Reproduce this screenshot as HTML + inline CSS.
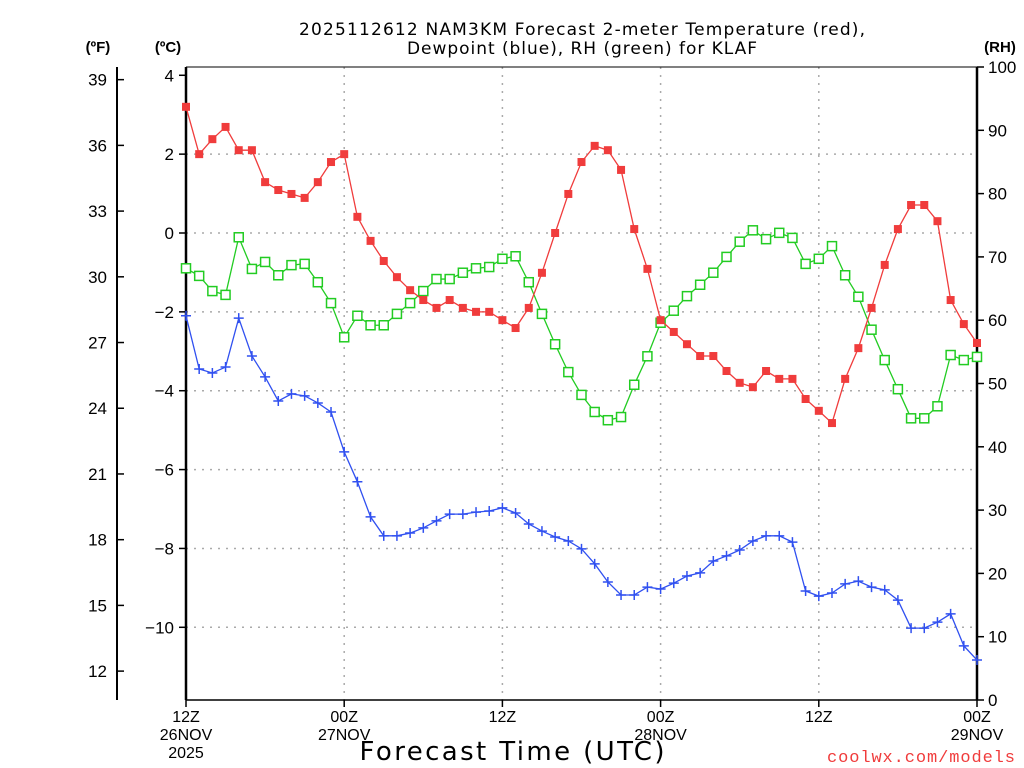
<!DOCTYPE html>
<html><head><meta charset="utf-8"><style>
body{margin:0;background:#fff}
svg{display:block;font-family:"Liberation Sans",sans-serif}
</style></head><body>
<svg id="c" width="1024" height="768">
<text x="582" y="35" font-size="17" font-family="DejaVu Sans, sans-serif" text-anchor="middle" textLength="566">2025112612 NAM3KM Forecast 2-meter Temperature (red),</text>
<text x="582" y="54" font-size="17" font-family="DejaVu Sans, sans-serif" text-anchor="middle" textLength="350">Dewpoint (blue), RH (green) for KLAF</text>
<text x="98" y="52" font-size="15" font-weight="bold" text-anchor="middle">(ºF)</text>
<text x="168" y="52" font-size="15" font-weight="bold" text-anchor="middle">(ºC)</text>
<text x="1000" y="52" font-size="15" font-weight="bold" text-anchor="middle">(RH)</text>
<text x="512" y="760" font-size="26" font-family="DejaVu Sans, sans-serif" text-anchor="middle" textLength="305">Forecast Time (UTC)</text>
<text x="1015" y="762" font-size="17" font-family="Liberation Mono, monospace" fill="#f03c3c" text-anchor="end" textLength="188">coolwx.com/models</text>
<g id="g"></g>
</svg>
<script>
const tempC=[3.20,2.00,2.38,2.69,2.10,2.10,1.29,1.09,0.99,0.89,1.29,1.80,2.00,0.41,-0.20,-0.71,-1.12,-1.45,-1.70,-1.90,-1.70,-1.90,-2.00,-2.00,-2.21,-2.41,-1.90,-1.01,0,0.99,1.80,2.21,2.10,1.60,0.10,-0.91,-2.21,-2.51,-2.82,-3.12,-3.12,-3.50,-3.80,-3.91,-3.50,-3.70,-3.70,-4.21,-4.51,-4.82,-3.70,-2.92,-1.90,-0.81,0.10,0.71,0.71,0.30,-1.70,-2.31,-2.79];
const dewC=[-2.10,-3.45,-3.55,-3.40,-2.16,-3.12,-3.65,-4.26,-4.08,-4.13,-4.31,-4.54,-5.55,-6.31,-7.20,-7.68,-7.68,-7.61,-7.48,-7.30,-7.13,-7.13,-7.08,-7.05,-6.97,-7.10,-7.38,-7.56,-7.71,-7.81,-8.01,-8.39,-8.85,-9.18,-9.18,-8.98,-9.03,-8.88,-8.70,-8.62,-8.32,-8.19,-8.04,-7.81,-7.68,-7.68,-7.84,-9.08,-9.21,-9.13,-8.90,-8.83,-8.98,-9.05,-9.31,-10.02,-10.02,-9.87,-9.66,-10.47,-10.83];
const rh=[68.2,67.0,64.6,64.0,73.1,68.1,69.2,67.1,68.7,68.9,66.0,62.7,57.3,60.7,59.2,59.2,61.0,62.7,64.6,66.5,66.5,67.5,68.2,68.4,69.7,70.1,66.0,61.0,56.2,51.8,48.2,45.5,44.2,44.7,49.8,54.3,59.6,61.5,63.8,65.6,67.5,70.0,72.4,74.2,72.8,73.8,73.0,68.9,69.7,71.7,67.1,63.7,58.5,53.7,49.1,44.5,44.5,46.4,54.5,53.7,54.2];
const cTicks=[4,2,0,-2,-4,-6,-8,-10];
const fTicks=[39,36,33,30,27,24,21,18,15,12];
const rhTicks=[0,10,20,30,40,50,60,70,80,90,100];
const xTickHours=[0,12,24,36,48,60];
const xTickL1=["12Z","00Z","12Z","00Z","12Z","00Z"];
const xTickL2=["26NOV","27NOV","","28NOV","","29NOV"];
const xTickL3=["2025","","","","",""];

const X0=186,X1=977,YT=67,YB=700;
const xs=h=>X0+h*(X1-X0)/60;
const yc=c=>233-39.43*c;
const yf=f=>yc((f-32)*5/9);
const yr=r=>YB-r*(YB-YT)/100;
const NS="http://www.w3.org/2000/svg";
const g=document.getElementById('g');
function mk(t,a,txt){const e=document.createElementNS(NS,t);for(const k in a)e.setAttribute(k,a[k]);if(txt!==undefined)e.textContent=txt;g.appendChild(e);return e;}

cTicks.forEach(c=>{if(c===4)return;
 const e=mk('line',{x1:X0,x2:X1,y1:yc(c),y2:yc(c),stroke:'#aaa','stroke-width':1.5,'stroke-dasharray':'2,6'});
 
 });
xTickHours.forEach(h=>{if(h===0||h===60)return;
 const e=mk('line',{x1:xs(h),x2:xs(h),y1:YT,y2:YB,stroke:'#aaa','stroke-width':1.5,'stroke-dasharray':'2,6'});
 
 });
[[X0,YT,X1,YT,1],[X0,YB,X1,YB,1.5],[X0,YT,X0,YB,2.5],[X1,YT,X1,YB,2.5],[117,YT,117,YB,2]].forEach(a=>{
 const e=mk('line',{x1:a[0],y1:a[1],x2:a[2],y2:a[3],stroke:'#000','stroke-width':a[4]});
 
 });
cTicks.forEach(c=>{
 mk('line',{x1:X0-7,x2:X0,y1:yc(c),y2:yc(c),stroke:'#000','stroke-width':1.5});
 const t=mk('text',{x:X0-12,y:yc(c)+6,'font-size':17,'text-anchor':'end'},c<0?'\u2212'+(-c):String(c));
 
 });
fTicks.forEach(f=>{
 mk('line',{x1:117,x2:124,y1:yf(f),y2:yf(f),stroke:'#000','stroke-width':1.5});
 const t=mk('text',{x:107,y:yf(f)+6,'font-size':17,'text-anchor':'end'},String(f));
 
 });
rhTicks.forEach(r=>{
 mk('line',{x1:X1,x2:X1+7,y1:yr(r),y2:yr(r),stroke:'#000','stroke-width':1.5});
 const t=mk('text',{x:X1+11,y:yr(r)+6,'font-size':17},String(r));
 
 });
xTickHours.forEach((h,i)=>{
 mk('line',{x1:xs(h),x2:xs(h),y1:YB,y2:YB+7,stroke:'#000','stroke-width':1.5});
 [xTickL1[i],xTickL2[i],xTickL3[i]].forEach((s,j)=>{if(!s)return;
  const t=mk('text',{x:xs(h),y:722+j*18,'font-size':16,'text-anchor':'middle'},s);
  
  });});

function series(vals,yfn,color,name,marker){
 const pts=vals.map((v,i)=>xs(i)+','+yfn(v)).join(' ');
 const l=mk('polyline',{points:pts,fill:'none',stroke:color,'stroke-width':1.3});
 
 
 vals.forEach((v,i)=>{const x=xs(i),y=yfn(v);let m;
  if(marker==='fill')m=mk('rect',{x:x-4,y:y-4,width:8,height:8,fill:color});
  else if(marker==='open')m=mk('rect',{x:x-4.5,y:y-4.5,width:9,height:9,fill:'#fff',stroke:color,'stroke-width':1.5});
  else m=mk('path',{d:`M${x-5},${y}H${x+5}M${x},${y-5}V${y+5}`,stroke:color,'stroke-width':1.5});
  
  });
}
series(rh,yr,'#22cc22','rh','open');
series(tempC,yc,'#f03c3c','temperature','fill');
series(dewC,yc,'#3050f0','dewpoint','plus');
</script>
</body></html>
